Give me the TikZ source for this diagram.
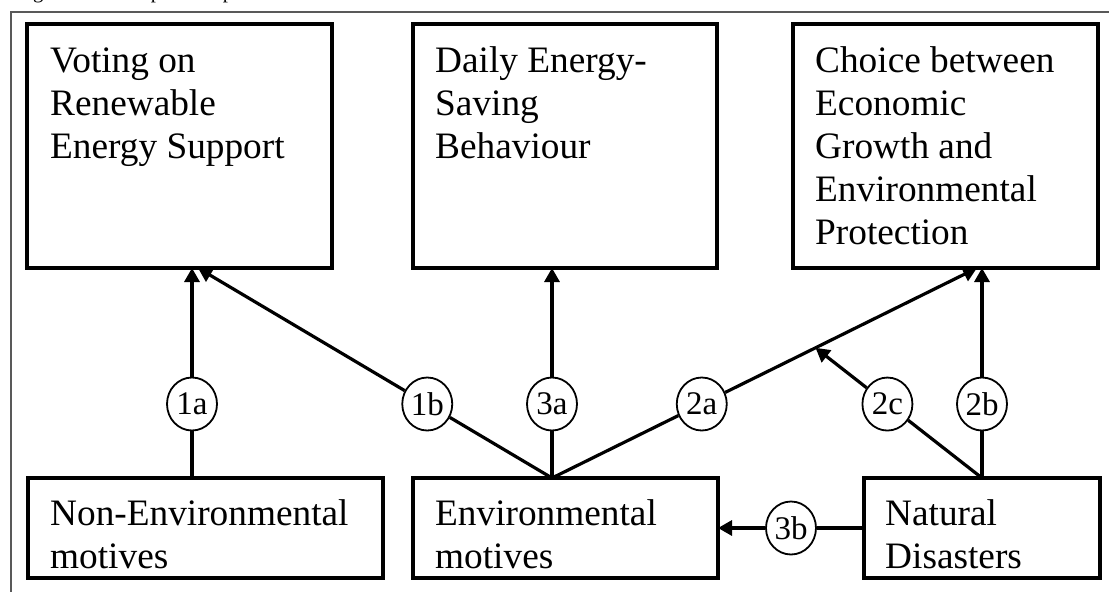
\documentclass[tikz,border=0pt]{standalone}
\usepackage{fontspec}
\setmainfont{Liberation Serif}
\usetikzlibrary{arrows.meta,calc,shapes.geometric}
\begin{document}
\begin{tikzpicture}[x=1pt,y=-1pt,
  box/.style={draw, line width=3.4pt, rectangle, inner sep=0pt, outer sep=0pt, anchor=north west},
  txt/.style={anchor=base west, inner sep=0pt, font=\fontsize{37.3}{43}\selectfont},
  circ/.style={draw, line width=1.8pt, ellipse, fill=white, minimum width=50pt, minimum height=53pt, inner sep=0pt, font=\fontsize{33}{33}\selectfont},
  conn/.style={line width=3.2pt, -{Triangle[length=14pt,width=15pt]}},
  frame/.style={draw=black!65, line width=1.2pt}
]
\useasboundingbox (0,0) rectangle (1109,592);
\clip (0,0) rectangle (1109,592);

% caption (only descenders visible)
\node[anchor=base west, inner sep=0pt, font=\fontsize{20.7}{24}\selectfont] (cap) at (15.6,-1.5) {Figure 1: Conceptual map};

% outer frame
\draw[frame] (11,12) rectangle (1130,610);

% top boxes
\node[box, minimum width=305pt, minimum height=244pt] (b1) at (27,24) {};
\node[box, minimum width=304pt, minimum height=244pt] (b2) at (413,24) {};
\node[box, minimum width=305pt, minimum height=244pt] (b3) at (793,24) {};
\node[txt] (b1t) at (50,72) {\parbox[t]{275pt}{\raggedright Voting on\\Renewable\\Energy Support}};
\node[txt] (b2t) at (435,72) {\parbox[t]{275pt}{\raggedright Daily Energy-\\Saving\\Behaviour}};
\node[txt] (b3t) at (815,72) {\parbox[t]{275pt}{\raggedright Choice between\\Economic\\Growth and\\Environmental\\Protection}};

% bottom boxes
\node[box, minimum width=355pt, minimum height=100pt] (n1) at (28,478) {};
\node[box, minimum width=305pt, minimum height=100pt] (n2) at (413,478) {};
\node[box, minimum width=236pt, minimum height=100pt] (n3) at (864,478) {};
\node[txt] (n1t) at (50,525) {\parbox[t]{340pt}{\raggedright Non-Environmental\\motives}};
\node[txt] (n2t) at (435,525) {\parbox[t]{280pt}{\raggedright Environmental\\motives}};
\node[txt] (n3t) at (885,525) {\parbox[t]{210pt}{\raggedright Natural\\Disasters}};

% connector end points
\coordinate (o1) at (192,478);
\coordinate (o2) at (552,478);
\coordinate (o3) at (982,478);
\coordinate (t1a) at (192,268);
\coordinate (t1b) at (198,268);
\coordinate (t3a) at (552,268);
\coordinate (t2a) at (977,268);
\coordinate (t2b) at (982,268);
\coordinate (m) at ($(o2)!0.62!(t2a)$);

% circles
\node[circ] (c1a) at (192,404) {1a};
\node[circ] (c1b) at ($(o2)!{74/210}!(t1b)$) {1b};
\node[circ] (c3a) at (552,404) {3a};
\node[circ] (c2a) at ($(o2)!{74/210}!(t2a)$) {2a};
\node[circ] (c2c) at ($(o3)!0.568!(m)$) {2c};
\node[circ] (c2b) at (982,404) {2b};
\node[circ] (c3b) at (791,528) {3b};

% connectors
\draw[conn] (o1) -- (c1a) -- (t1a);
\draw[conn] (o2) -- (c1b) -- (t1b);
\draw[conn] (o2) -- (c3a) -- (t3a);
\draw[conn] (o2) -- (c2a) -- (t2a);
\draw[conn] (o3) -- (c2c) -- (m);
\draw[conn] (o3) -- (c2b) -- (t2b);
\draw[conn] (n3.west) -- (c3b) -- (n2.east);
\end{tikzpicture}
\end{document}
